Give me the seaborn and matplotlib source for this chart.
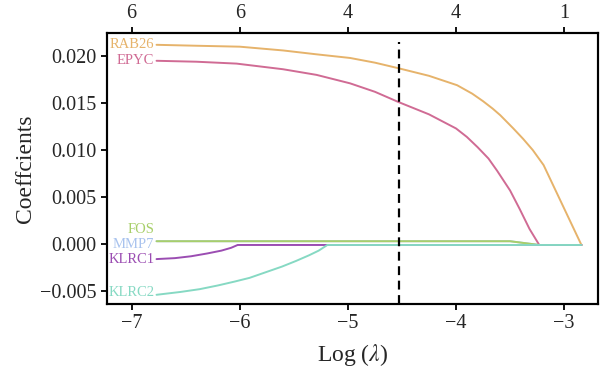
import pandas as pd
import matplotlib.pyplot as plt
import seaborn as sns

# coefficient paths (log lambda, coefficient)
genes = ['RAB26', 'EPYC', 'FOS', 'MMP7', 'KLRC1', 'KLRC2']
colors = ['#E6B36B', '#D06B94', '#A8CF6A', '#A9C3EE', '#9B4DB2', '#86D9C3']
draw_order = ['MMP7', 'RAB26', 'EPYC', 'FOS', 'KLRC1', 'KLRC2']

rab26_x = [-6.77, -6.4, -6.0, -5.6, -5.3, -4.98, -4.75, -4.53, -4.25, -3.99, -3.85,
           -3.75, -3.66, -3.59, -3.47, -3.38, -3.29, -3.19, -2.84]
rab26_y = [0.0212, 0.0211, 0.0210, 0.0206, 0.0202, 0.0198, 0.0193, 0.0187, 0.0179, 0.0169, 0.0160,
           0.0152, 0.0144, 0.0137, 0.0123, 0.0112, 0.0100, 0.0084, -0.0001]

epyc_x = [-6.77, -6.4, -6.03, -5.6, -5.29, -4.98, -4.75, -4.53, -4.25, -4.0, -3.9,
          -3.80, -3.7, -3.62, -3.5, -3.41, -3.32, -3.23, -2.84]
epyc_y = [0.0195, 0.0194, 0.0192, 0.0186, 0.0180, 0.0171, 0.0162, 0.0151, 0.0138, 0.0123, 0.0114,
          0.0103, 0.0091, 0.0078, 0.0057, 0.0037, 0.0016, -0.0001, -0.0001]

fos_x = [-6.77, -3.50, -3.23, -2.84]
fos_y = [0.0003, 0.0003, -0.0001, -0.0001]

# MMP7 sits under FOS in the reference and is never seen
mmp7_x = [-6.77, -3.50, -3.23, -2.84]
mmp7_y = [0.0003, 0.0003, -0.0001, -0.0001]

klrc1_x = [-6.77, -6.6, -6.45, -6.3, -6.17, -6.08, -6.02, -2.84]
klrc1_y = [-0.0016, -0.0015, -0.0013, -0.0010, -0.0007, -0.0004, -0.0001, -0.0001]

klrc2_x = [-6.77, -6.55, -6.37, -6.2, -6.05, -5.91, -5.76, -5.61, -5.48, -5.36, -5.27, -5.19, -2.84]
klrc2_y = [-0.0054, -0.0051, -0.0048, -0.0044, -0.0040, -0.0036, -0.0030, -0.0024, -0.0018, -0.0012, -0.0007, -0.0001, -0.0001]

# label heights (FOS is lifted so the labels do not collide)
label_y = [0.0212, 0.0195, 0.0015, 0.0000, -0.0016, -0.0052]

top_ticks = [-7, -6, -5, -4, -3]
top_labels = ['6', '6', '4', '4', '1']
lambda_min = -4.53

xs = [rab26_x, epyc_x, fos_x, mmp7_x, klrc1_x, klrc2_x]
ys = [rab26_y, epyc_y, fos_y, mmp7_y, klrc1_y, klrc2_y]
df = pd.concat([pd.DataFrame({'loglambda': x, 'coef': y, 'gene': g})
                for g, x, y in zip(genes, xs, ys)], ignore_index=True)
palette = dict(zip(genes, colors))

sns.set_style('ticks')
plt.rcParams['font.family'] = ['Liberation Serif', 'DejaVu Serif']
plt.rcParams['mathtext.fontset'] = 'stix'

fig = plt.figure(figsize=(6, 3.8), dpi=100)
ax = fig.add_axes([0.178, 0.2, 0.819, 0.713])

sns.lineplot(data=df, x='loglambda', y='coef', hue='gene', hue_order=draw_order,
             palette=palette, sort=False, estimator=None, linewidth=1.4,
             legend=False, ax=ax)

for g, c, ly in zip(genes, colors, label_y):
    ax.text(-6.79, ly, g, color=c, fontsize=10.5, ha='right', va='center')

ax.set_xlim(-7.23, -2.685)
ax.set_ylim(-0.00638, 0.02245)
ax.set_xticks(top_ticks)
ax.set_xticklabels(['\u22127', '\u22126', '\u22125', '\u22124', '\u22123'])
ax.set_yticks([-0.005, 0.0, 0.005, 0.010, 0.015, 0.020])
ax.set_yticklabels(['\u22120.005', '0.000', '0.005', '0.010', '0.015', '0.020'])
ax.set_xlabel(r'Log ($\lambda$)', fontsize=17, labelpad=6)
ax.set_ylabel('Coeffcients', fontsize=17, labelpad=3)
ax.tick_params(labelsize=14.5, length=4, width=1.3, color='black')

ax.axvline(lambda_min, ymax=0.967, color='black', linestyle=(0, (4, 2.5)), linewidth=1.6)

top = ax.twiny()
top.set_xlim(ax.get_xlim())
top.set_xticks(top_ticks)
top.set_xticklabels(top_labels)
top.tick_params(labelsize=14.5, length=4, width=1.3, color='black')

for a in (ax, top):
    for s in a.spines.values():
        s.set_linewidth(1.5)
        s.set_color('black')

fig.savefig('out.png', dpi=100)
